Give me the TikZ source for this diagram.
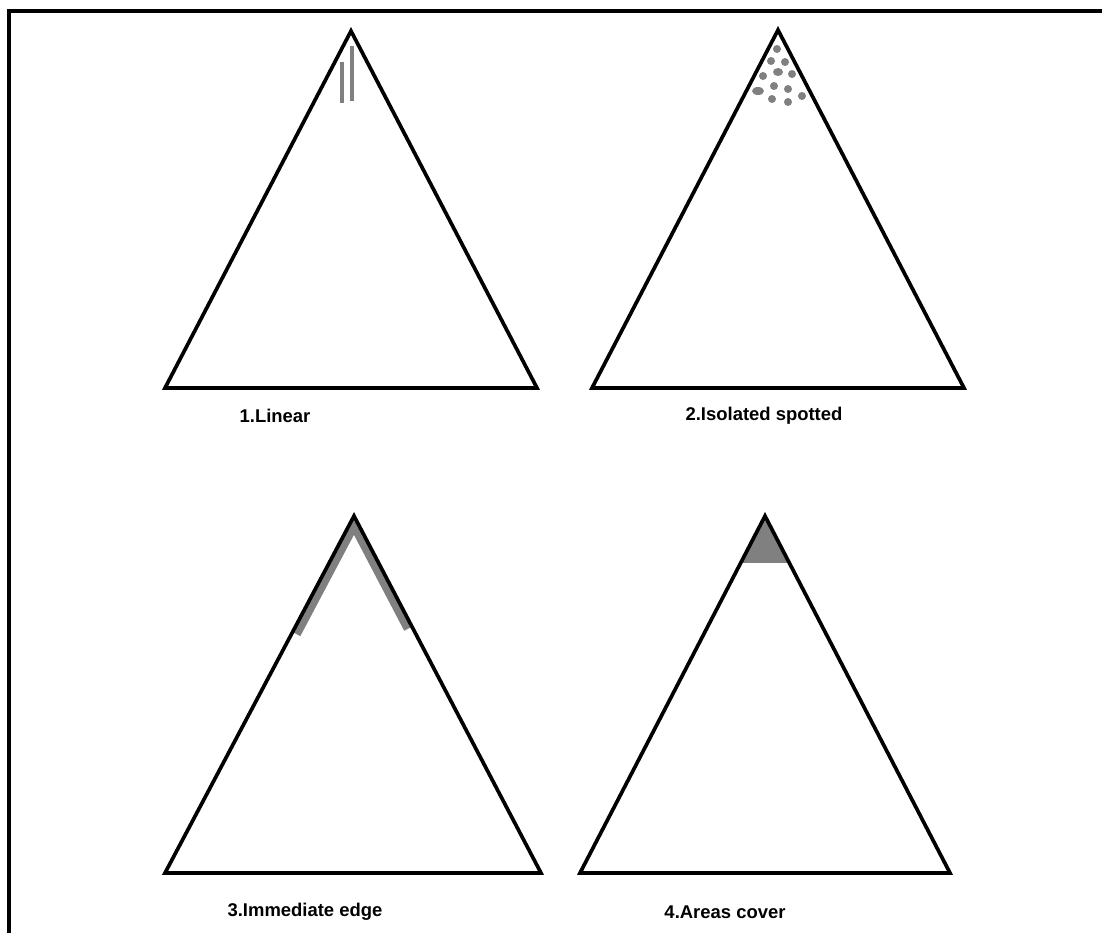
\documentclass[tikz,border=0pt]{standalone}
\usepackage{fontspec}
\setmainfont{Liberation Sans}
\usetikzlibrary{calc}

\begin{document}
\begin{tikzpicture}[x=0.02cm, y=-0.02cm,
    tri/.style={line width=2.1pt, line join=miter},
    grey/.style={fill=black!50, draw=none},
    caption/.style={font=\bfseries\fontsize{10.5}{12}\selectfont}]
    \useasboundingbox (0,0) rectangle (1102,933);
    % open frame
    \draw[line width=1.8pt] (9,933) -- (9,11) -- (1102,11);

    % corners
    \coordinate (a1) at (351,31);  \coordinate (l1) at (165,388); \coordinate (r1) at (537,388);
    \coordinate (a2) at (778,30);  \coordinate (l2) at (592,388); \coordinate (r2) at (964,388);
    \coordinate (a3) at (354,516); \coordinate (l3) at (165,873); \coordinate (r3) at (541,873);
    \coordinate (a4) at (765,516); \coordinate (l4) at (580,873); \coordinate (r4) at (950,873);

    % 1: linear
    \draw[black!50, line width=2.2pt] (342,62) -- (342,103);
    \draw[black!50, line width=2.2pt] (352,46) -- (352,101);

    % 2: spots
    \foreach \x/\y/\r in {777/49/4, 771/61/4, 785/62/4, 763/76/4, 778/72/5,
                          792/74/4, 758/91/6, 774/86/4, 788/89/4, 802/96/4,
                          772/99/4, 788/102/4}
        \fill[grey] (\x,\y) ellipse ({\r} and 4);

    % 3: edge band
    \begin{scope}
        \clip (a3) -- (l3) -- (r3) -- cycle;
        \draw[black!50, line width=10pt] (a3) -- ($(a3)!0.325!(l3)$);
        \draw[black!50, line width=10pt] (a3) -- ($(a3)!0.31!(r3)$);
    \end{scope}

    % 4: covered area
    \begin{scope}
        \clip (a4) -- (l4) -- (r4) -- cycle;
        \fill[grey] (700,510) rectangle (830,563);
    \end{scope}

    \draw[tri] (a1) -- (l1) -- (r1) -- cycle;
    \draw[tri] (a2) -- (l2) -- (r2) -- cycle;
    \draw[tri] (a3) -- (l3) -- (r3) -- cycle;
    \draw[tri] (a4) -- (l4) -- (r4) -- cycle;

    \node[caption] (c1) at (275,416) {1.Linear};
    \node[caption] (c2) at (764,416) {2.Isolated spotted};
    \node[caption] (c3) at (305,912) {3.Immediate edge};
    \node[caption] (c4) at (725,912) {4.Areas cover};
\end{tikzpicture}
\end{document}
